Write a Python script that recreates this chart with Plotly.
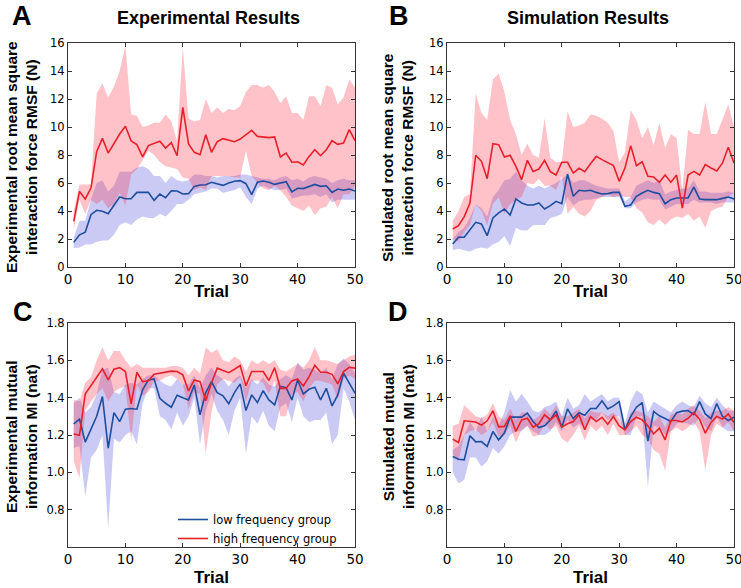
import plotly.graph_objects as go

trials = list(range(1, 51))

# ---- panel A: experimental RMSF ----
a_low = [1.76, 2.3, 2.48, 3.74, 4.05, 3.98, 3.81, 4.38, 5.0, 4.88,
         4.88, 5.33, 5.33, 5.33, 4.76, 5.21, 4.95, 5.45, 5.43, 5.21,
         5.24, 5.76, 5.86, 5.88, 6.05, 5.95, 5.83, 6.0, 6.12, 6.17,
         5.95, 5.17, 6.05, 6.14, 6.05, 5.9, 6.0, 6.1, 5.36, 5.62,
         5.6, 5.76, 5.9, 5.76, 5.8, 5.33, 5.57, 5.48, 5.57, 5.43]
a_low_up = [2.1, 3.3, 3.3, 4.8, 6.0, 6.2, 5.4, 5.8, 6.8, 6.8,
            6.8, 7.1, 7.2, 7.0, 6.5, 6.5, 6.0, 6.5, 6.2, 6.1,
            6.2, 6.6, 6.6, 6.5, 6.5, 6.4, 6.5, 6.5, 6.5, 6.6,
            6.6, 6.5, 6.4, 6.3, 6.3, 6.2, 6.4, 6.5, 6.2, 6.3,
            6.1, 6.4, 6.5, 6.4, 6.3, 6.0, 6.2, 6.3, 6.2, 6.2]
a_low_lo = [1.35, 1.4, 1.6, 1.6, 1.8, 1.9, 1.9, 2.3, 3.0, 3.2,
            3.0, 3.4, 3.6, 3.5, 3.5, 3.8, 3.6, 4.0, 4.5, 4.5,
            4.8, 5.2, 5.3, 5.4, 5.6, 5.6, 5.3, 5.4, 5.5, 5.7,
            5.0, 4.5, 5.6, 5.8, 5.6, 5.5, 5.5, 5.6, 4.9, 5.0,
            5.1, 5.1, 5.2, 5.0, 5.2, 4.6, 4.8, 4.8, 4.8, 4.8]
a_high = [3.26, 5.4, 4.86, 5.64, 8.26, 9.19, 8.14, 8.86, 9.5, 10.05,
          9.0, 8.74, 7.86, 8.67, 8.8, 8.98, 8.5, 8.88, 7.95, 11.4,
          8.79, 8.19, 8.02, 9.45, 8.19, 8.95, 9.17, 9.05, 8.95, 9.14,
          9.43, 9.76, 9.33, 9.29, 9.24, 9.29, 7.86, 8.14, 7.48, 7.52,
          7.29, 7.9, 8.38, 7.95, 8.38, 9.02, 8.76, 8.86, 9.81, 9.02]
a_high_up = [4.0, 5.9, 5.9, 5.9, 12.4, 13.1, 12.1, 12.9, 14.0, 15.8,
             10.9, 10.8, 10.0, 10.1, 10.3, 10.3, 10.9, 10.4, 9.0, 15.7,
             10.6, 10.4, 10.5, 12.0, 11.0, 11.4, 11.0, 11.3, 11.2, 11.5,
             12.5, 13.0, 13.0, 12.8, 13.0, 12.5, 11.7, 12.2, 11.0, 11.0,
             10.5, 12.2, 12.2, 11.5, 13.0, 12.8, 11.6, 12.1, 13.4, 12.8]
a_high_lo = [2.7, 4.8, 3.8, 4.8, 4.5, 4.8, 4.2, 4.5, 5.3, 4.4,
             6.6, 7.0, 7.6, 8.3, 8.0, 7.5, 7.2, 7.1, 7.0, 6.4,
             6.3, 5.5, 5.7, 5.5, 6.5, 6.5, 6.5, 6.5, 6.4, 6.4,
             8.3, 6.5, 6.0, 5.6, 5.5, 5.8, 5.5, 5.0, 4.4, 4.2,
             4.0, 4.4, 3.7, 4.2, 4.3, 5.0, 4.2, 5.2, 5.2, 5.8]

# ---- panel B: simulated RMSF ----
b_low = [1.64, 2.12, 2.12, 2.67, 3.19, 3.07, 2.24, 3.5, 3.86, 4.14,
         3.71, 4.86, 4.57, 4.43, 4.43, 4.57, 4.14, 4.38, 4.69, 4.52,
         6.64, 5.05, 5.48, 5.43, 5.48, 5.33, 5.21, 5.24, 5.33, 5.33,
         4.33, 4.43, 5.05, 5.29, 5.48, 5.33, 5.24, 4.52, 4.81, 4.93,
         4.93, 4.93, 5.71, 4.86, 4.81, 4.81, 4.81, 4.9, 5.0, 4.86]
b_low_up = [2.0, 2.5, 2.8, 3.5, 4.5, 4.2, 3.6, 5.0, 5.5, 6.2,
            6.3, 6.8, 6.2, 5.8, 5.6, 5.8, 5.6, 5.8, 6.0, 6.3,
            6.6, 6.0, 6.2, 6.2, 6.0, 5.8, 5.7, 5.6, 5.6, 5.6,
            4.7, 5.0, 5.8, 6.0, 6.2, 6.0, 6.2, 5.2, 5.4, 5.5,
            5.6, 5.6, 6.2, 5.4, 5.4, 5.3, 5.3, 5.3, 5.4, 5.3]
b_low_lo = [1.2, 1.3, 1.2, 1.1, 1.3, 1.4, 1.3, 1.6, 1.8, 2.2,
            1.5, 2.8, 2.6, 2.6, 3.0, 3.0, 3.0, 3.5, 3.6, 3.8,
            5.0, 4.4, 4.7, 4.8, 4.8, 4.9, 5.0, 5.0, 5.0, 5.0,
            4.2, 4.2, 4.6, 4.8, 4.9, 4.8, 4.8, 4.1, 4.3, 4.5,
            4.5, 4.5, 4.8, 4.6, 4.6, 4.6, 4.5, 4.6, 4.6, 4.6]
b_high = [2.71, 2.95, 3.6, 4.57, 7.98, 7.55, 6.31, 8.81, 8.74, 7.86,
          7.98, 7.19, 6.24, 7.62, 6.83, 7.0, 7.62, 6.81, 6.57, 7.48,
          7.48, 6.71, 7.05, 6.81, 7.38, 7.9, 7.67, 7.43, 7.24, 6.12,
          7.07, 8.67, 7.24, 7.52, 6.48, 6.43, 6.05, 6.57, 6.05, 6.57,
          4.21, 6.57, 6.83, 6.57, 7.31, 7.07, 6.86, 7.43, 8.55, 7.43]
b_high_up = [3.3, 4.0, 5.0, 5.2, 12.4, 11.0, 10.5, 13.4, 13.8, 12.5,
             10.5, 9.5, 8.0, 8.8, 8.0, 7.8, 10.6, 7.8, 7.5, 7.5,
             11.1, 10.0, 10.1, 10.3, 10.9, 10.8, 10.6, 10.3, 9.7, 7.5,
             8.2, 11.2, 10.5, 9.2, 10.0, 8.7, 10.3, 8.5, 9.5, 9.2,
             5.5, 9.8, 9.5, 9.5, 11.8, 9.5, 9.5, 10.5, 11.6, 10.0]
b_high_lo = [2.0, 1.8, 2.5, 3.0, 4.5, 4.0, 3.0, 4.5, 5.0, 3.8,
             4.5, 4.8, 5.0, 6.0, 5.9, 6.3, 5.8, 5.8, 5.5, 6.5,
             3.8, 4.3, 3.8, 3.6, 4.0, 4.8, 5.0, 5.2, 5.0, 5.1,
             5.0, 5.0, 4.2, 3.9, 3.2, 3.0, 3.4, 3.0, 3.4, 3.6,
             3.5, 3.8, 3.3, 3.6, 2.8, 4.0, 4.2, 4.3, 5.0, 5.3]

# ---- panel C: experimental MI ----
c_low = [1.26, 1.285, 1.162, 1.228, 1.3, 1.406, 1.13, 1.32, 1.272, 1.338,
         1.342, 1.338, 1.442, 1.495, 1.5, 1.397, 1.37, 1.349, 1.413, 1.399,
         1.388, 1.468, 1.308, 1.427, 1.486, 1.427, 1.41, 1.367, 1.427, 1.474,
         1.331, 1.415, 1.374, 1.438, 1.388, 1.362, 1.46, 1.454, 1.388, 1.495,
         1.42, 1.445, 1.456, 1.388, 1.45, 1.356, 1.415, 1.531, 1.48, 1.424]
c_low_up = [1.37, 1.4, 1.32, 1.35, 1.42, 1.55, 1.56, 1.43, 1.42, 1.47,
            1.48, 1.47, 1.5, 1.52, 1.52, 1.49, 1.47, 1.46, 1.5, 1.47,
            1.47, 1.52, 1.45, 1.52, 1.56, 1.52, 1.5, 1.46, 1.5, 1.52,
            1.45, 1.5, 1.47, 1.51, 1.47, 1.46, 1.5, 1.52, 1.5, 1.59,
            1.55, 1.56, 1.55, 1.53, 1.56, 1.5, 1.58, 1.61, 1.58, 1.53]
c_low_lo = [1.13, 1.14, 0.87, 1.08, 1.12, 1.2, 0.7, 1.18, 1.16, 1.2,
            1.22, 1.15, 1.37, 1.45, 1.45, 1.3, 1.28, 1.23, 1.32, 1.25,
            1.3, 1.4, 1.15, 1.33, 1.42, 1.33, 1.28, 1.2, 1.33, 1.4,
            1.1, 1.3, 1.26, 1.33, 1.25, 1.22, 1.35, 1.37, 1.27, 1.4,
            1.3, 1.27, 1.28, 1.28, 1.32, 1.15, 1.2, 1.45, 1.38, 1.28]
c_high = [1.206, 1.198, 1.42, 1.463, 1.51, 1.554, 1.495, 1.552, 1.561, 1.54,
          1.367, 1.536, 1.486, 1.49, 1.525, 1.53, 1.536, 1.542, 1.54, 1.522,
          1.436, 1.495, 1.486, 1.383, 1.48, 1.558, 1.545, 1.534, 1.552, 1.572,
          1.463, 1.54, 1.54, 1.54, 1.492, 1.561, 1.45, 1.45, 1.49, 1.5,
          1.463, 1.513, 1.574, 1.536, 1.536, 1.525, 1.474, 1.54, 1.563, 1.558]
c_high_up = [1.39, 1.38, 1.48, 1.51, 1.6, 1.67, 1.6, 1.65, 1.65, 1.6,
             1.56, 1.58, 1.56, 1.56, 1.56, 1.56, 1.56, 1.57, 1.57, 1.56,
             1.52, 1.56, 1.53, 1.67, 1.64, 1.66, 1.6, 1.59, 1.62, 1.6,
             1.54, 1.6, 1.58, 1.6, 1.58, 1.6, 1.55, 1.54, 1.56, 1.58,
             1.56, 1.6, 1.67, 1.6, 1.6, 1.59, 1.58, 1.6, 1.62, 1.63]
c_high_lo = [1.06, 0.97, 1.33, 1.38, 1.42, 1.45, 1.38, 1.43, 1.45, 1.46,
             1.17, 1.47, 1.41, 1.43, 1.49, 1.49, 1.51, 1.52, 1.5, 1.47,
             1.34, 1.43, 1.42, 1.1, 1.32, 1.47, 1.5, 1.49, 1.48, 1.51,
             1.38, 1.49, 1.49, 1.48, 1.42, 1.49, 1.3, 1.3, 1.42, 1.43,
             1.38, 1.45, 1.49, 1.49, 1.48, 1.47, 1.39, 1.5, 1.52, 1.5]

# ---- panel D: simulated MI ----
d_low = [1.085, 1.07, 1.067, 1.196, 1.163, 1.165, 1.139, 1.219, 1.174, 1.21,
         1.296, 1.296, 1.296, 1.317, 1.272, 1.24, 1.249, 1.281, 1.328, 1.242,
         1.34, 1.288, 1.319, 1.306, 1.342, 1.342, 1.383, 1.34, 1.356, 1.379,
         1.228, 1.299, 1.349, 1.374, 1.167, 1.326, 1.303, 1.288, 1.272, 1.319,
         1.328, 1.331, 1.31, 1.379, 1.313, 1.288, 1.369, 1.299, 1.278, 1.296]
d_low_up = [1.12, 1.14, 1.2, 1.27, 1.22, 1.3, 1.22, 1.3, 1.25, 1.32,
            1.44, 1.38, 1.42, 1.38, 1.33, 1.32, 1.35, 1.36, 1.38, 1.3,
            1.4, 1.34, 1.36, 1.42, 1.38, 1.4, 1.42, 1.38, 1.4, 1.4,
            1.26, 1.38, 1.44, 1.42, 1.32, 1.38, 1.36, 1.34, 1.32, 1.36,
            1.38, 1.36, 1.35, 1.41, 1.37, 1.35, 1.4, 1.36, 1.33, 1.33]
d_low_lo = [1.0, 0.94, 0.96, 1.08, 1.08, 1.03, 1.06, 1.13, 1.1, 1.14,
            1.2, 1.22, 1.22, 1.25, 1.22, 1.2, 1.2, 1.22, 1.27, 1.22,
            1.28, 1.24, 1.26, 1.24, 1.28, 1.28, 1.32, 1.28, 1.3, 1.3,
            1.2, 1.2, 1.3, 1.3, 0.92, 1.25, 1.24, 1.2, 1.22, 1.26,
            1.27, 1.26, 1.25, 1.3, 1.24, 1.22, 1.3, 1.24, 1.22, 1.22]
d_high = [1.178, 1.16, 1.276, 1.274, 1.27, 1.253, 1.276, 1.33, 1.244, 1.246,
          1.303, 1.219, 1.281, 1.29, 1.242, 1.26, 1.308, 1.281, 1.308, 1.242,
          1.26, 1.272, 1.308, 1.228, 1.299, 1.272, 1.295, 1.258, 1.299, 1.249,
          1.228, 1.272, 1.295, 1.281, 1.249, 1.206, 1.237, 1.174, 1.278, 1.278,
          1.27, 1.29, 1.32, 1.285, 1.21, 1.267, 1.299, 1.285, 1.313, 1.267]
d_high_up = [1.25, 1.26, 1.36, 1.33, 1.3, 1.29, 1.31, 1.37, 1.3, 1.28,
             1.34, 1.28, 1.32, 1.32, 1.28, 1.3, 1.34, 1.31, 1.36, 1.3,
             1.3, 1.32, 1.34, 1.29, 1.33, 1.32, 1.32, 1.3, 1.32, 1.29,
             1.24, 1.32, 1.33, 1.32, 1.3, 1.27, 1.3, 1.24, 1.31, 1.32,
             1.31, 1.34, 1.36, 1.33, 1.29, 1.32, 1.33, 1.33, 1.35, 1.33]
d_high_lo = [1.1, 1.06, 1.2, 1.22, 1.23, 1.2, 1.22, 1.27, 1.19, 1.2,
             1.25, 1.16, 1.23, 1.25, 1.19, 1.2, 1.26, 1.23, 1.25, 1.18,
             1.16, 1.2, 1.25, 1.17, 1.25, 1.22, 1.25, 1.2, 1.26, 1.2,
             1.2, 1.22, 1.25, 1.2, 1.18, 1.12, 1.1, 1.01, 1.22, 1.24,
             1.22, 1.24, 1.27, 1.22, 1.01, 1.2, 1.26, 1.24, 1.27, 1.22]

panels = [
    ('x', 'y', a_low, a_low_up, a_low_lo, a_high, a_high_up, a_high_lo, False),
    ('x2', 'y2', b_low, b_low_up, b_low_lo, b_high, b_high_up, b_high_lo, False),
    ('x3', 'y3', c_low, c_low_up, c_low_lo, c_high, c_high_up, c_high_lo, True),
    ('x4', 'y4', d_low, d_low_up, d_low_lo, d_high, d_high_up, d_high_lo, False),
]

RED = '#e8202a'
BLUE = '#1f4e9e'
RED_FILL = 'rgba(255,35,60,0.28)'
BLUE_FILL = 'rgba(60,60,215,0.27)'

fig = go.Figure()
for xa, ya, lo_m, lo_u, lo_l, hi_m, hi_u, hi_l, leg in panels:
    # shaded bands (blue first, red over it): upper edge, then lower edge filled to it
    for up, dn, col in [(lo_u, lo_l, BLUE_FILL), (hi_u, hi_l, RED_FILL)]:
        fig.add_trace(go.Scatter(x=trials, y=up, xaxis=xa, yaxis=ya, mode='lines',
                                 line=dict(width=0), showlegend=False, hoverinfo='skip'))
        fig.add_trace(go.Scatter(x=trials, y=dn, xaxis=xa, yaxis=ya, mode='lines',
                                 line=dict(width=0), fill='tonexty', fillcolor=col,
                                 showlegend=False, hoverinfo='skip'))
    fig.add_trace(go.Scatter(x=trials, y=lo_m, xaxis=xa, yaxis=ya, mode='lines',
                             line=dict(color=BLUE, width=1.6), name='low frequency group',
                             showlegend=leg))
    fig.add_trace(go.Scatter(x=trials, y=hi_m, xaxis=xa, yaxis=ya, mode='lines',
                             line=dict(color=RED, width=1.6), name='high frequency group',
                             showlegend=leg))

W, H = 741, 588
left = [68, 447]
right = [355, 734]
top = [43, 323]
bottom = [267, 547]

axis_style = dict(showline=True, linecolor='#333333', linewidth=1, mirror='allticks',
                  ticks='inside', ticklen=4, tickcolor='#333333', showgrid=False,
                  zeroline=False, automargin=False)

layout_axes = {}
for i, (col, row) in enumerate([(0, 0), (1, 0), (0, 1), (1, 1)]):
    n = '' if i == 0 else str(i + 1)
    xd = [left[col] / W, right[col] / W]
    yd = [1 - bottom[row] / H, 1 - top[row] / H]
    layout_axes['xaxis' + n] = dict(domain=xd, anchor='y' + n, range=[0, 50],
                                    tickvals=[0, 10, 20, 30, 40, 50],
                                    ticklabeloverflow='allow',
                                    tickfont=dict(family='DejaVu Sans', size=13.5, color='black'),
                                    **axis_style)
    if row == 0:
        yr, yt = [0, 16], [0, 2, 4, 6, 8, 10, 12, 14, 16]
        yl = ['0', '2', '4', '6', '8', '10', '12', '14', '16']
    else:
        yr, yt = [0.6, 1.8], [0.8, 1.0, 1.2, 1.4, 1.6, 1.8]
        yl = ['0.8', '1.0', '1.2', '1.4', '1.6', '1.8']
    layout_axes['yaxis' + n] = dict(domain=yd, anchor='x' + n, range=yr,
                                    tickvals=yt, ticktext=yl,
                                    tickfont=dict(family='DejaVu Sans', size=11.5, color='black'),
                                    **axis_style)

bold = 'Liberation Sans'
annotations = []


def add_text(text, x, y, size, angle=0):
    annotations.append(dict(text='<b>' + text + '</b>', x=x / W, y=1 - y / H,
                            xref='paper', yref='paper', showarrow=False,
                            xanchor='center', yanchor='middle', textangle=angle,
                            font=dict(family=bold, size=size, color='black')))


add_text('A', 22, 16, 27)
add_text('B', 399, 16, 27)
add_text('C', 23, 312, 27)
add_text('D', 398, 312, 27)
add_text('Experimental Results', 208, 18, 18)
add_text('Simulation Results', 588, 18, 18)
add_text('Trial', 211, 291, 17)
add_text('Trial', 590, 291, 17)
add_text('Trial', 211, 577, 17)
add_text('Trial', 590, 577, 17)
add_text('Experimental root mean square<br>interaction force RMSF (N)', 21, 157, 15.5, -90)
add_text('Simulated root mean square<br>interaction force RMSF (N)', 397, 157, 15.5, -90)
add_text('Experimental mutual<br>information MI (nat)', 21, 437, 15.5, -90)
add_text('Simulated mutual<br>information MI (nat)', 398, 437, 15.5, -90)

fig.update_layout(
    width=W, height=H,
    margin=dict(l=0, r=0, t=0, b=0, autoexpand=False),
    paper_bgcolor='white', plot_bgcolor='white',
    showlegend=True,
    legend=dict(x=173 / W, y=1 - 505 / H, xanchor='left', yanchor='top',
                traceorder='normal', bgcolor='rgba(0,0,0,0)',
                font=dict(family='DejaVu Sans', size=11.5, color='black'),
                tracegroupgap=0),
    annotations=annotations,
    **layout_axes
)

# page body has a default 8px margin; drop it so the figure fills the window
fig.write_html("out.html", config={'displayModeBar': False},
               post_script="document.body.style.margin='0';"
                           "document.body.style.overflow='hidden';")
